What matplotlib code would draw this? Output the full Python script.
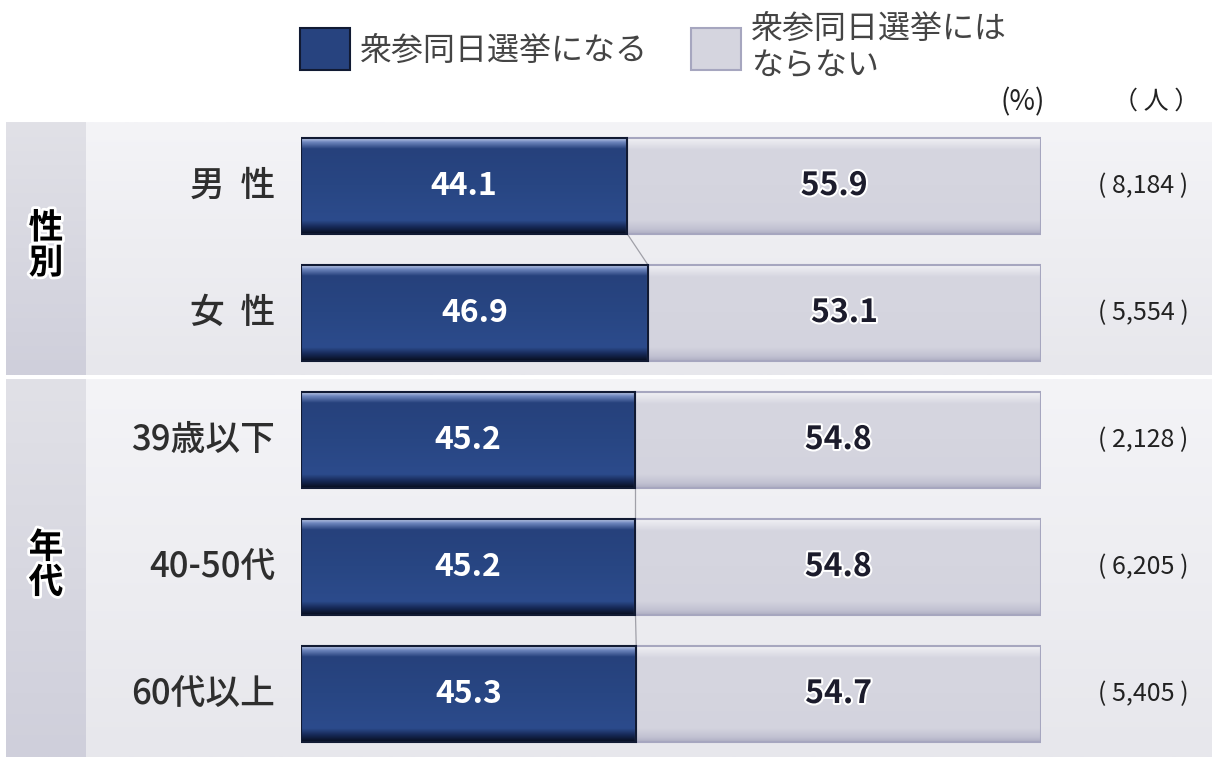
import numpy as np
import matplotlib
matplotlib.use("Agg")
import matplotlib.pyplot as plt
from matplotlib.colors import to_rgb
from matplotlib.patches import Patch
import matplotlib.patheffects as pe

plt.rcParams['font.family'] = ['Noto Sans CJK JP', 'DejaVu Sans']

# data
categories = ['男  性', '女  性', '39歳以下', '40-50代', '60代以上']
yes_vals = [44.1, 46.9, 45.2, 45.2, 45.3]
no_vals = [55.9, 53.1, 54.8, 54.8, 54.7]
counts = ['( 8,184 )', '( 5,554 )', '( 2,128 )', '( 6,205 )', '( 5,405 )']
groups = ['性\n別', '年\n代']
group_rows = [[0, 1], [2, 3, 4]]
legend_labels = ['衆参同日選挙になる', '衆参同日選挙には\nならない']

W, H = 1222, 767
fig = plt.figure(figsize=(W / 100, H / 100), dpi=100)
fig.patch.set_facecolor('white')


def vgrad(stops, colors, n=200):
    t = np.linspace(0, 1, n)
    cols = np.array([to_rgb(c) for c in colors])
    arr = np.stack([np.interp(t, stops, cols[:, k]) for k in range(3)], axis=-1)
    return arr[:, None, :]


# background panels (pixel coords)
bg = fig.add_axes([0, 0, 1, 1], zorder=-1)
bg.axis('off')
panel_main = vgrad([0, 1], ['#f4f4f7', '#e7e7ec'])
panel_left = vgrad([0, 1], ['#e1e1e7', '#cfcfdb'])
for (y0, y1) in [(122, 375), (379, 757)]:
    bg.imshow(panel_main, extent=(86, 1212, y1, y0), aspect='auto', origin='upper')
    bg.imshow(panel_left, extent=(6, 86, y1, y0), aspect='auto', origin='upper')
bg.set_xlim(0, W)
bg.set_ylim(H, 0)

for g, (y0, y1) in zip(groups, [(122, 375), (379, 757)]):
    bg.text(46, (y0 + y1) / 2 - 3, g, ha='center', va='center', fontsize=25,
            fontweight='bold', color='black', linespacing=1.0,
            path_effects=[pe.withStroke(linewidth=4, foreground='white')])

bg.text(1023, 102, '(%)', ha='center', va='center', fontsize=20, color='#222222')
bg.text(1156, 102, '（ 人 ）', ha='center', va='center', fontsize=18, color='#222222')

# bars
ax = fig.add_axes([301 / W, (H - 757.5) / H, 740 / W, 635 / H])
ax.axis('off')
ax.patch.set_alpha(0)

h = 0.756
y = np.arange(len(categories))
blue_grad = vgrad([0, 0.015, 0.05, 0.12, 0.5, 0.86, 0.93, 1.0],
                  ['#0f1a35', '#b4c1e2', '#6e86bd', '#26417c', '#284683', '#2c4b8c', '#162856', '#070d1e'])
gray_grad = vgrad([0, 0.03, 0.13, 0.5, 0.86, 0.95, 1.0],
                  ['#f6f6f9', '#ececf1', '#d6d6e0', '#d5d5df', '#d3d3de', '#c2c2d2', '#aeaec3'])

yes_bars = ax.barh(y, yes_vals, height=h, color='#27437f', zorder=2)
no_bars = ax.barh(y, no_vals, left=yes_vals, height=h, color='#d5d5df', zorder=2)
for bars, grad in [(yes_bars, blue_grad), (no_bars, gray_grad)]:
    for b in bars:
        x0, yb = b.get_x(), b.get_y()
        im = ax.imshow(grad, extent=(x0, x0 + b.get_width(), yb + h, yb),
                       aspect='auto', origin='upper', zorder=3)
        im.set_clip_path(b)
ax.barh(y, no_vals, left=yes_vals, height=h, fill=False, edgecolor='#a6a6bf', linewidth=1.5, zorder=4)
ax.barh(y, yes_vals, height=h, fill=False, edgecolor='#111a33', linewidth=1.5, zorder=5)
ax.set_xlim(0, 100)
ax.set_ylim(4.5, -0.5)

# connector lines within groups
for rows in group_rows:
    for a, b in zip(rows[:-1], rows[1:]):
        ax.plot([yes_vals[a], yes_vals[b]], [a + h / 2, b - h / 2], color='#a0a0a8', linewidth=0.9, zorder=1)

for i in y:
    ax.text(yes_vals[i] / 2, i, f'{yes_vals[i]:.1f}', ha='center', va='center',
            fontsize=23, fontweight='bold', color='white', zorder=6)
    ax.text(yes_vals[i] + no_vals[i] / 2, i, f'{no_vals[i]:.1f}', ha='center', va='center',
            fontsize=23, fontweight='bold', color='#1c1c2c', zorder=6,
            path_effects=[pe.withStroke(linewidth=3, foreground='white')])
    ax.text(-3.5, i, categories[i], ha='right', va='center', fontsize=25,
            fontweight='medium', color='#2e2e2e')
    ax.text(119.9, i, counts[i], ha='right', va='center', fontsize=18, color='#222222')

# legend
handles = [Patch(facecolor='#27437f', edgecolor='#111a33', linewidth=1.5),
           Patch(facecolor='#d5d5df', edgecolor='#a6a6bf', linewidth=1.5)]
fig.legend(handles, legend_labels, loc='center left', bbox_to_anchor=(300 / W, 1 - 47 / H),
           ncol=2, frameon=False, fontsize=23, labelcolor='#444444',
           handlelength=1.57, handleheight=1.66, handletextpad=0.3, columnspacing=1.35,
           borderaxespad=0, borderpad=0, labelspacing=0.2)

plt.savefig('out.png', dpi=100)
plt.close()
